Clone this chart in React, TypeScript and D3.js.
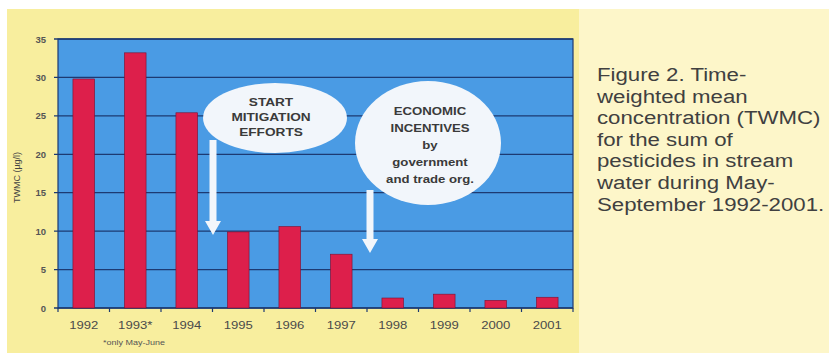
import React from "react";
import * as d3 from "d3";

const years = ["1992", "1993*", "1994", "1995", "1996", "1997", "1998", "1999", "2000", "2001"];
const twmc = [29.8, 33.2, 25.4, 9.9, 10.6, 7.0, 1.3, 1.8, 1.0, 1.4];
const yTicks = [0, 5, 10, 15, 20, 25, 30, 35];
const captionLines = [
  "Figure 2. Time-",
  "weighted mean",
  "concentration (TWMC)",
  "for the sum of",
  "pesticides in stream",
  "water during May-",
  "September 1992-2001.",
];
const note1 = ["START", "MITIGATION", "EFFORTS"];
const note2 = ["ECONOMIC", "INCENTIVES", "by", "government", "and trade org."];

const W = 829;
const H = 353;
const plot = { left: 58, right: 573, top: 39, bottom: 308 };

function Arrow({ x, y1, y2 }: { x: number; y1: number; y2: number }) {
  const sw = 3.5;
  const hw = 8;
  const hl = 14;
  const d = `M${x - sw},${y1} L${x + sw},${y1} L${x + sw},${y2 - hl} L${x + hw},${y2 - hl} L${x},${y2} L${x - hw},${y2 - hl} L${x - sw},${y2 - hl} Z`;
  return <path d={d} fill="#f2f6fb" />;
}

function SText({
  x,
  y,
  sx,
  children,
  ...rest
}: {
  x: number;
  y: number;
  sx: number;
  children: React.ReactNode;
  [k: string]: any;
}) {
  return (
    <text transform={`translate(${x},${y}) scale(${sx},1)`} {...rest}>
      {children}
    </text>
  );
}

export default function App() {
  const x = d3
    .scaleBand<string>()
    .domain(years)
    .range([plot.left, plot.right])
    .paddingInner(0.58)
    .paddingOuter(0.29);
  const y = d3.scaleLinear().domain([0, 35]).range([plot.bottom, plot.top]);
  const step = x.step();

  return (
    <svg
      width={W}
      height={H}
      style={{ position: "absolute", left: 0, top: 0, display: "block" }}
      fontFamily="'Liberation Sans', Arial, sans-serif"
    >
      <rect x={0} y={0} width={W} height={H} fill="#ffffff" />
      <rect x={7} y={9} width={W - 7} height={H - 9} fill="#fdf6c9" />
      <rect x={7} y={9} width={572} height={H - 9} fill="#f8ee9e" />

      {/* plot background */}
      <rect
        x={plot.left}
        y={plot.top}
        width={plot.right - plot.left}
        height={plot.bottom - plot.top}
        fill="#4a9be4"
      />
      {yTicks.map((t) => (
        <line
          key={"g" + t}
          x1={plot.left - 4}
          x2={plot.right}
          y1={y(t)}
          y2={y(t)}
          stroke="#1d3a72"
          strokeWidth={1.3}
        />
      ))}
      <rect
        x={plot.left}
        y={plot.top}
        width={plot.right - plot.left}
        height={plot.bottom - plot.top}
        fill="none"
        stroke="#1d3a72"
        strokeWidth={1.2}
      />

      {/* bars */}
      {years.map((yr, i) => (
        <rect
          key={yr}
          x={x(yr)}
          y={y(twmc[i])}
          width={x.bandwidth()}
          height={y(0) - y(twmc[i])}
          fill="#dd1f4b"
          stroke="#7a1030"
          strokeWidth={0.6}
        />
      ))}

      {/* x ticks between categories */}
      {d3.range(years.length + 1).map((k) => (
        <line
          key={"xt" + k}
          x1={plot.left + k * step}
          x2={plot.left + k * step}
          y1={plot.bottom}
          y2={plot.bottom + 4}
          stroke="#1d3a72"
          strokeWidth={1.2}
        />
      ))}

      {/* y tick labels */}
      {yTicks.map((t) => (
        <text
          key={"yl" + t}
          x={46}
          y={y(t) + 3.5}
          textAnchor="end"
          fontSize={9.5}
          fontWeight="bold"
          fill="#555"
        >
          {t}
        </text>
      ))}
      <text
        transform={`translate(20,${(plot.top + plot.bottom) / 2 + 4}) rotate(-90)`}
        textAnchor="middle"
        fontSize={9}
        fill="#444"
      >
        TWMC (µg/l)
      </text>

      {/* x labels */}
      {years.map((yr) => (
        <SText
          key={"xl" + yr}
          x={(x(yr) as number) + x.bandwidth() / 2}
          y={329}
          sx={1.25}
          textAnchor="middle"
          fontSize={10.5}
          fill="#4a4a4a"
        >
          {yr}
        </SText>
      ))}
      <SText x={103} y={345} sx={1.2} fontSize={7.5} fill="#555">
        *only May-June
      </SText>

      {/* annotations */}
      <Arrow x={213} y1={140} y2={235} />
      <ellipse cx={275} cy={118} rx={72} ry={35} fill="#f2f6fb" />
      {note1.map((s, i) => (
        <SText
          key={s}
          x={271}
          y={106 + i * 15}
          sx={1.3}
          textAnchor="middle"
          fontSize={10.5}
          fontWeight="bold"
          fill="#3a3a3a"
        >
          {s}
        </SText>
      ))}

      <Arrow x={370} y1={190} y2={253} />
      <ellipse cx={428} cy={143} rx={73} ry={62} fill="#f2f6fb" />
      {note2.map((s, i) => (
        <SText
          key={s}
          x={430}
          y={115 + i * 17}
          sx={1.2}
          textAnchor="middle"
          fontSize={11}
          fontWeight="bold"
          fill="#3a3a3a"
        >
          {s}
        </SText>
      ))}

      {/* caption */}
      <g transform="translate(597,0) scale(1.17,1)">
        {captionLines.map((s, i) => (
          <text key={s} x={0} y={81 + i * 21.6} fontSize={19} fill="#404040">
            {s}
          </text>
        ))}
      </g>
    </svg>
  );
}
